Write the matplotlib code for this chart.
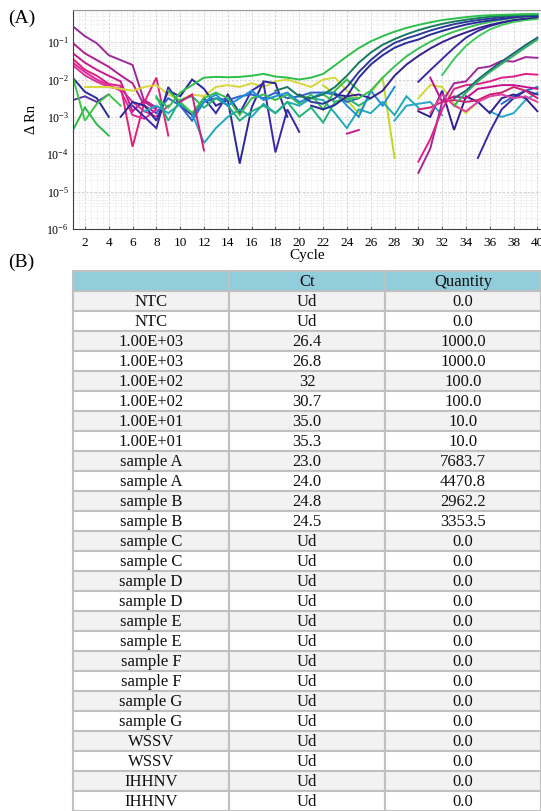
import numpy as np
import matplotlib
matplotlib.use("Agg")
import matplotlib.pyplot as plt
from matplotlib.ticker import LogLocator, MultipleLocator, FixedLocator, NullFormatter
from matplotlib.patches import Rectangle

plt.rcParams['font.family'] = ['Liberation Serif', 'DejaVu Serif']
plt.rcParams['mathtext.fontset'] = 'stix'

# ---------------- data: amplification plot (log10 of delta Rn, per cycle) ----------------
cycles = np.arange(1, 41)

# amplification curves (start cycle, values)
ampA1_start = 8
ampA1 = [-2.5, -2.75, -2.35, -2.15, -1.95, -1.93, -1.94, -1.93, -1.9, -1.85, -1.92, -1.95, -2.0,
         -1.95, -1.85, -1.62, -1.38, -1.16, -0.98, -0.84, -0.72, -0.62, -0.54, -0.47, -0.41,
         -0.37, -0.33, -0.3, -0.28, -0.27, -0.26, -0.25, -0.25]
ampA2_start = 18
ampA2 = [-2.3, -2.2, -2.45, -2.5, -2.4, -2.2, -1.9, -1.55, -1.28, -1.07, -0.92, -0.79, -0.68,
         -0.59, -0.51, -0.45, -0.4, -0.36, -0.32, -0.3, -0.28, -0.27, -0.26]
ampB1_start = 20
ampB1 = [-2.4, -2.6, -2.65, -2.5, -2.2, -1.8, -1.48, -1.22, -1.02, -0.9, -0.8, -0.69, -0.6,
         -0.52, -0.46, -0.41, -0.37, -0.33, -0.31, -0.29, -0.28]
ampB2_start = 21
ampB2 = [-2.7, -2.8, -2.68, -2.45, -1.95, -1.6, -1.35, -1.15, -1.02, -0.93, -0.8, -0.7, -0.61,
         -0.53, -0.47, -0.42, -0.38, -0.34, -0.31, -0.3]
amp1E3a_start = 22
amp1E3a = [-2.4, -2.6, -2.5, -2.5, -2.3, -1.95, -1.65, -1.38, -1.17, -0.99, -0.84, -0.72, -0.62,
           -0.53, -0.46, -0.4, -0.35, -0.32, -0.3]
amp1E3b_start = 23
amp1E3b = [-2.4, -2.45, -2.4, -2.5, -2.3, -1.9, -1.6, -1.37, -1.17, -1.0, -0.86, -0.74, -0.63,
           -0.54, -0.47, -0.41, -0.37, -0.33]
amp1E2a_start = 30
amp1E2a = [-2.06, -1.75, -1.45, -1.15, -0.88, -0.7, -0.57, -0.48, -0.42, -0.38, -0.35]
amp1E2b_start = 32
amp1E2b = [-1.88, -1.45, -1.1, -0.85, -0.66, -0.54, -0.46, -0.41, -0.38]
amp1E1a_start = 33
amp1E1a = [-2.5, -2.3, -2.0, -1.75, -1.52, -1.3, -1.08, -0.88]
amp1E1b_start = 33
amp1E1b = [-2.7, -2.35, -2.05, -1.8, -1.58, -1.36, -1.14, -0.93]

# early decaying curves
early1 = [-0.58, -0.84, -1.03, -1.35, -1.48, -1.61, -2.6, -2.8]
early2 = [-1.03, -1.3, -1.48, -1.66, -1.89, -2.1, -2.7, -2.9]
early3 = [-1.3, -1.55, -1.74, -1.9, -2.05, -2.85, -2.55, -2.75]
early4 = [-1.45, -1.74, -1.9, -2.12, -2.17, -3.8, -2.6, -1.95, -3.5]
early5 = [-1.62, -1.89, -2.06, -2.2, -2.24, -2.6, -2.85, -3.0, -2.7]
early6 = [-1.55, -1.8, -2.0, -2.15, -2.3, -2.95, -3.05, -2.8]
early_navy = [-1.96, -2.33, -2.5, -3.0]
early_purple = [-2.55, -2.45, -2.6, -2.4]
early_green1 = [-3.35, -2.75, -3.2, -3.5]
early_green2 = [-1.95, -3.1, -2.65, -2.4, -2.7]

# baseline noise curves
yellow_start = 2
yellow = [-2.2, -2.2, -2.2, -2.25, -2.3, -2.2, -2.15, -2.4, -2.55, -2.4, -2.45, -2.2, -2.15,
          -2.2, -2.1, -2.2, -2.05, -2.0, -2.1, -2.2, -2.0, -1.95, -2.3, -2.5]
lime_start = 22
lime = [-2.15, -2.4, -2.55, -2.9, -2.35, -1.95, -4.1]
lime2_start = 30
lime2 = [-2.5, -2.15, -2.2, -2.65, -2.9, -2.6]
navy1_start = 5
navy1 = [-3.0, -2.6, -2.7, -3.1, -2.3, -2.45, -2.0, -2.25, -2.7, -2.55, -4.25, -2.75, -2.05,
         -2.1, -3.0]
navy2_start = 6
navy2 = [-2.7, -3.0, -3.3, -2.2, -2.7, -2.95, -2.5, -2.9, -2.4, -2.9, -2.3, -2.1, -3.95,
         -2.8, -3.4]
blue_start = 8
blue = [-2.9, -2.5, -2.7, -3.1, -2.6, -2.5, -2.55, -2.45, -2.4, -2.5, -2.35, -2.5, -2.45,
        -2.35, -2.35, -2.4, -2.6, -2.5]
teal_start = 7
teal = [-2.85, -2.7, -2.9, -2.65, -2.9, -3.7, -3.3, -3.0, -2.8, -3.0, -2.65, -2.9, -2.6,
        -2.7, -2.5, -2.55, -2.9, -3.3, -2.8, -2.9, -2.6, -2.95, -2.45, -2.75]
seagreen_start = 8
seagreen = [-2.45, -3.1, -2.55, -2.45, -2.75, -2.5, -2.7, -3.1, -2.85, -2.7, -2.9, -2.6,
            -3.0, -2.75, -3.15, -2.6, -2.5, -2.7, -2.5]
green_start = 9
green = [-2.3, -2.6, -2.9, -2.5, -2.35, -2.5, -2.95, -2.5, -2.4, -2.55, -2.4, -2.65, -2.4,
         -2.8, -2.3, -2.0, -2.3]
cyan_start = 11
cyan = [-3.0, -2.6, -2.4, -2.7, -2.5, -2.3, -2.55, -2.45, -2.35, -2.6, -2.5, -2.35, -2.35,
        -2.7, -3.0, -2.3, -2.7, -2.2]
teal2_start = 28
teal2 = [-3.1, -2.7, -2.65, -2.6, -2.95]
teal3_start = 36
teal3 = [-2.85, -3.0, -2.9, -2.55, -2.35]
blue2_start = 37
blue2 = [-2.65, -2.45, -2.3, -2.2]
mag_mid_start = 10
mag_mid = [-2.6, -2.4, -3.9]
mag_seg_start = 24
mag_seg = [-3.45, -3.35]
navy_late_start = 30
navy_late = [-2.85, -3.0, -2.3, -3.35, -2.45, -2.6, -2.9, -2.5, -2.4, -2.5, -2.85]
navy_rise_start = 35
navy_rise = [-4.1, -3.4, -2.8, -2.5, -2.3, -2.4]

# late magenta curves
late1_start = 30
late1 = [-4.5, -3.85, -2.6, -2.1, -2.05, -1.7, -1.65, -1.5, -1.52, -1.4, -1.42]
late2_start = 30
late2 = [-4.2, -3.6, -2.8, -2.25, -2.15, -2.12, -2.05, -1.95, -1.92, -1.85, -1.87]
late3_start = 31
late3 = [-1.95, -2.6, -2.45, -2.5, -2.25, -2.2, -2.15, -2.15, -2.2, -2.25]
late4_start = 30
late4 = [-2.8, -2.75, -2.6, -2.55, -2.6, -2.55, -2.4, -2.35, -2.2, -2.3, -2.5]
late5_start = 31
late5 = [-2.9, -2.4, -2.7, -2.85, -2.6, -2.45, -2.4, -2.5, -2.45, -2.6]

series = [
    (1, early1, '#9A2A9E'), (1, early2, '#B0208F'), (1, early3, '#C41A8C'),
    (1, early4, '#E0207A'), (1, early5, '#D8309A'), (1, early6, '#E0289A'),
    (1, early_navy, '#2A2A98'), (1, early_purple, '#5A30A8'),
    (1, early_green1, '#2DB84B'), (1, early_green2, '#45C24A'),
    (yellow_start, yellow, '#D6D83A'), (lime_start, lime, '#C0D822'),
    (lime2_start, lime2, '#D0D838'),
    (navy1_start, navy1, '#2B2896'), (navy2_start, navy2, '#3A2AA8'),
    (blue_start, blue, '#2E62C8'), (teal_start, teal, '#22A8BC'),
    (seagreen_start, seagreen, '#20B27A'), (green_start, green, '#38C048'),
    (cyan_start, cyan, '#1E90D8'), (teal2_start, teal2, '#28A8C8'),
    (teal3_start, teal3, '#28A8C8'), (blue2_start, blue2, '#2070C8'),
    (mag_mid_start, mag_mid, '#D0207F'), (mag_seg_start, mag_seg, '#C0208F'),
    (navy_late_start, navy_late, '#302090'), (navy_rise_start, navy_rise, '#3A2AA0'),
    (late1_start, late1, '#A0289A'), (late2_start, late2, '#E0208A'),
    (late3_start, late3, '#C8108F'), (late4_start, late4, '#D02070'),
    (late5_start, late5, '#E040A0'),
    (amp1E1a_start, amp1E1a, '#1B5F78'), (amp1E1b_start, amp1E1b, '#2FB060'),
    (amp1E2a_start, amp1E2a, '#3A2AA0'), (amp1E2b_start, amp1E2b, '#3DCB5A'),
    (amp1E3b_start, amp1E3b, '#352090'), (amp1E3a_start, amp1E3a, '#3BBF55'),
    (ampB2_start, ampB2, '#2A2A9A'), (ampB1_start, ampB1, '#2D3A96'),
    (ampA2_start, ampA2, '#157A5E'), (ampA1_start, ampA1, '#2CC04A'),
]

# ---------------- data: table ----------------
col_labels = ['', 'Ct', 'Quantity']
sample_names = ['NTC', 'NTC', '1.00E+03', '1.00E+03', '1.00E+02', '1.00E+02', '1.00E+01',
                '1.00E+01', 'sample A', 'sample A', 'sample B', 'sample B', 'sample C',
                'sample C', 'sample D', 'sample D', 'sample E', 'sample E', 'sample F',
                'sample F', 'sample G', 'sample G', 'WSSV', 'WSSV', 'IHHNV', 'IHHNV']
ct_values = ['Ud', 'Ud', '26.4', '26.8', '32', '30.7', '35.0', '35.3', '23.0', '24.0', '24.8',
             '24.5', 'Ud', 'Ud', 'Ud', 'Ud', 'Ud', 'Ud', 'Ud', 'Ud', 'Ud', 'Ud', 'Ud', 'Ud',
             'Ud', 'Ud']
quantities = ['0.0', '0.0', '1000.0', '1000.0', '100.0', '100.0', '10.0', '10.0', '7683.7',
              '4470.8', '2962.2', '3353.5', '0.0', '0.0', '0.0', '0.0', '0.0', '0.0', '0.0',
              '0.0', '0.0', '0.0', '0.0', '0.0', '0.0', '0.0']

# ---------------- figure ----------------
W, H = 541, 811
fig = plt.figure(figsize=(W / 100, H / 100), dpi=100)

def fx(px):
    return px / W

def fy(py):
    return 1 - py / H

ax_l, ax_r, ax_t, ax_b = 73, 541, 10, 229
ax = fig.add_axes([fx(ax_l), fy(ax_b), fx(ax_r - ax_l), fy(ax_t) - fy(ax_b)])

for start, vals, color in series:
    y = np.full(len(cycles), np.nan)
    y[start - 1:start - 1 + len(vals)] = vals
    ax.plot(cycles, 10.0 ** y, color=color, lw=1.4, solid_joinstyle='miter')

ax.set_yscale('log')
ax.set_xlim(1, 40.3)
ax.set_ylim(1e-6, 10 ** -0.14)
ax.xaxis.set_major_locator(MultipleLocator(2))
ax.xaxis.set_minor_locator(MultipleLocator(0.5))
ax.yaxis.set_major_locator(FixedLocator([1e-6, 1e-5, 1e-4, 1e-3, 1e-2, 1e-1]))
ax.yaxis.set_minor_locator(LogLocator(base=10, subs=np.arange(2, 10), numticks=20))
ax.yaxis.set_minor_formatter(NullFormatter())
ax.grid(which='major', ls=(0, (3, 2)), color='#cfcfcf', lw=0.6)
ax.grid(which='minor', ls=(0, (2, 2)), color='#e2e2e2', lw=0.5)
ax.set_axisbelow(True)
ax.tick_params(which='minor', length=0)
ax.tick_params(axis='x', which='major', length=2, direction='in', color='#606060',
               labelsize=9.5, pad=6)
ax.tick_params(axis='y', which='major', length=0, labelsize=8.5, pad=3)
ax.spines['top'].set_color('#9a9a9a')
ax.spines['top'].set_linewidth(0.8)
ax.spines['right'].set_visible(False)
for s in ['left', 'bottom']:
    ax.spines[s].set_color('#404040')
    ax.spines[s].set_linewidth(0.8)
ax.set_xlabel('Cycle', fontsize=11, labelpad=0)
ax.set_ylabel('Δ Rn', fontsize=10.5, labelpad=6)

fig.text(fx(8), fy(18), '(A)', fontsize=14, va='center', ha='left')
fig.text(fx(8), fy(262), '(B)', fontsize=14, va='center', ha='left')

# ---------------- table ----------------
tl, tr, tt, tb = 73, 541, 271, 811
tax = fig.add_axes([fx(tl), fy(tb), fx(tr - tl), fy(tt) - fy(tb)])
n_rows = len(sample_names) + 1
tax.set_xlim(0, 3)
tax.set_ylim(n_rows, 0)
tax.axis('off')
border = '#c0c0c0'
for r in range(n_rows):
    if r == 0:
        fc = '#92CDDC'
    elif r % 2 == 1:
        fc = '#F2F2F2'
    else:
        fc = '#FFFFFF'
    for c in range(3):
        tax.add_patch(Rectangle((c, r), 1, 1, facecolor=fc, edgecolor=border, lw=1.5,
                                clip_on=False))
    row = col_labels if r == 0 else [sample_names[r - 1], ct_values[r - 1], quantities[r - 1]]
    for c in range(3):
        tax.text(c + 0.5, r + 0.55, row[c], ha='center', va='center', fontsize=12,
                 color='#111111')

fig.savefig('out.png', dpi=100)
